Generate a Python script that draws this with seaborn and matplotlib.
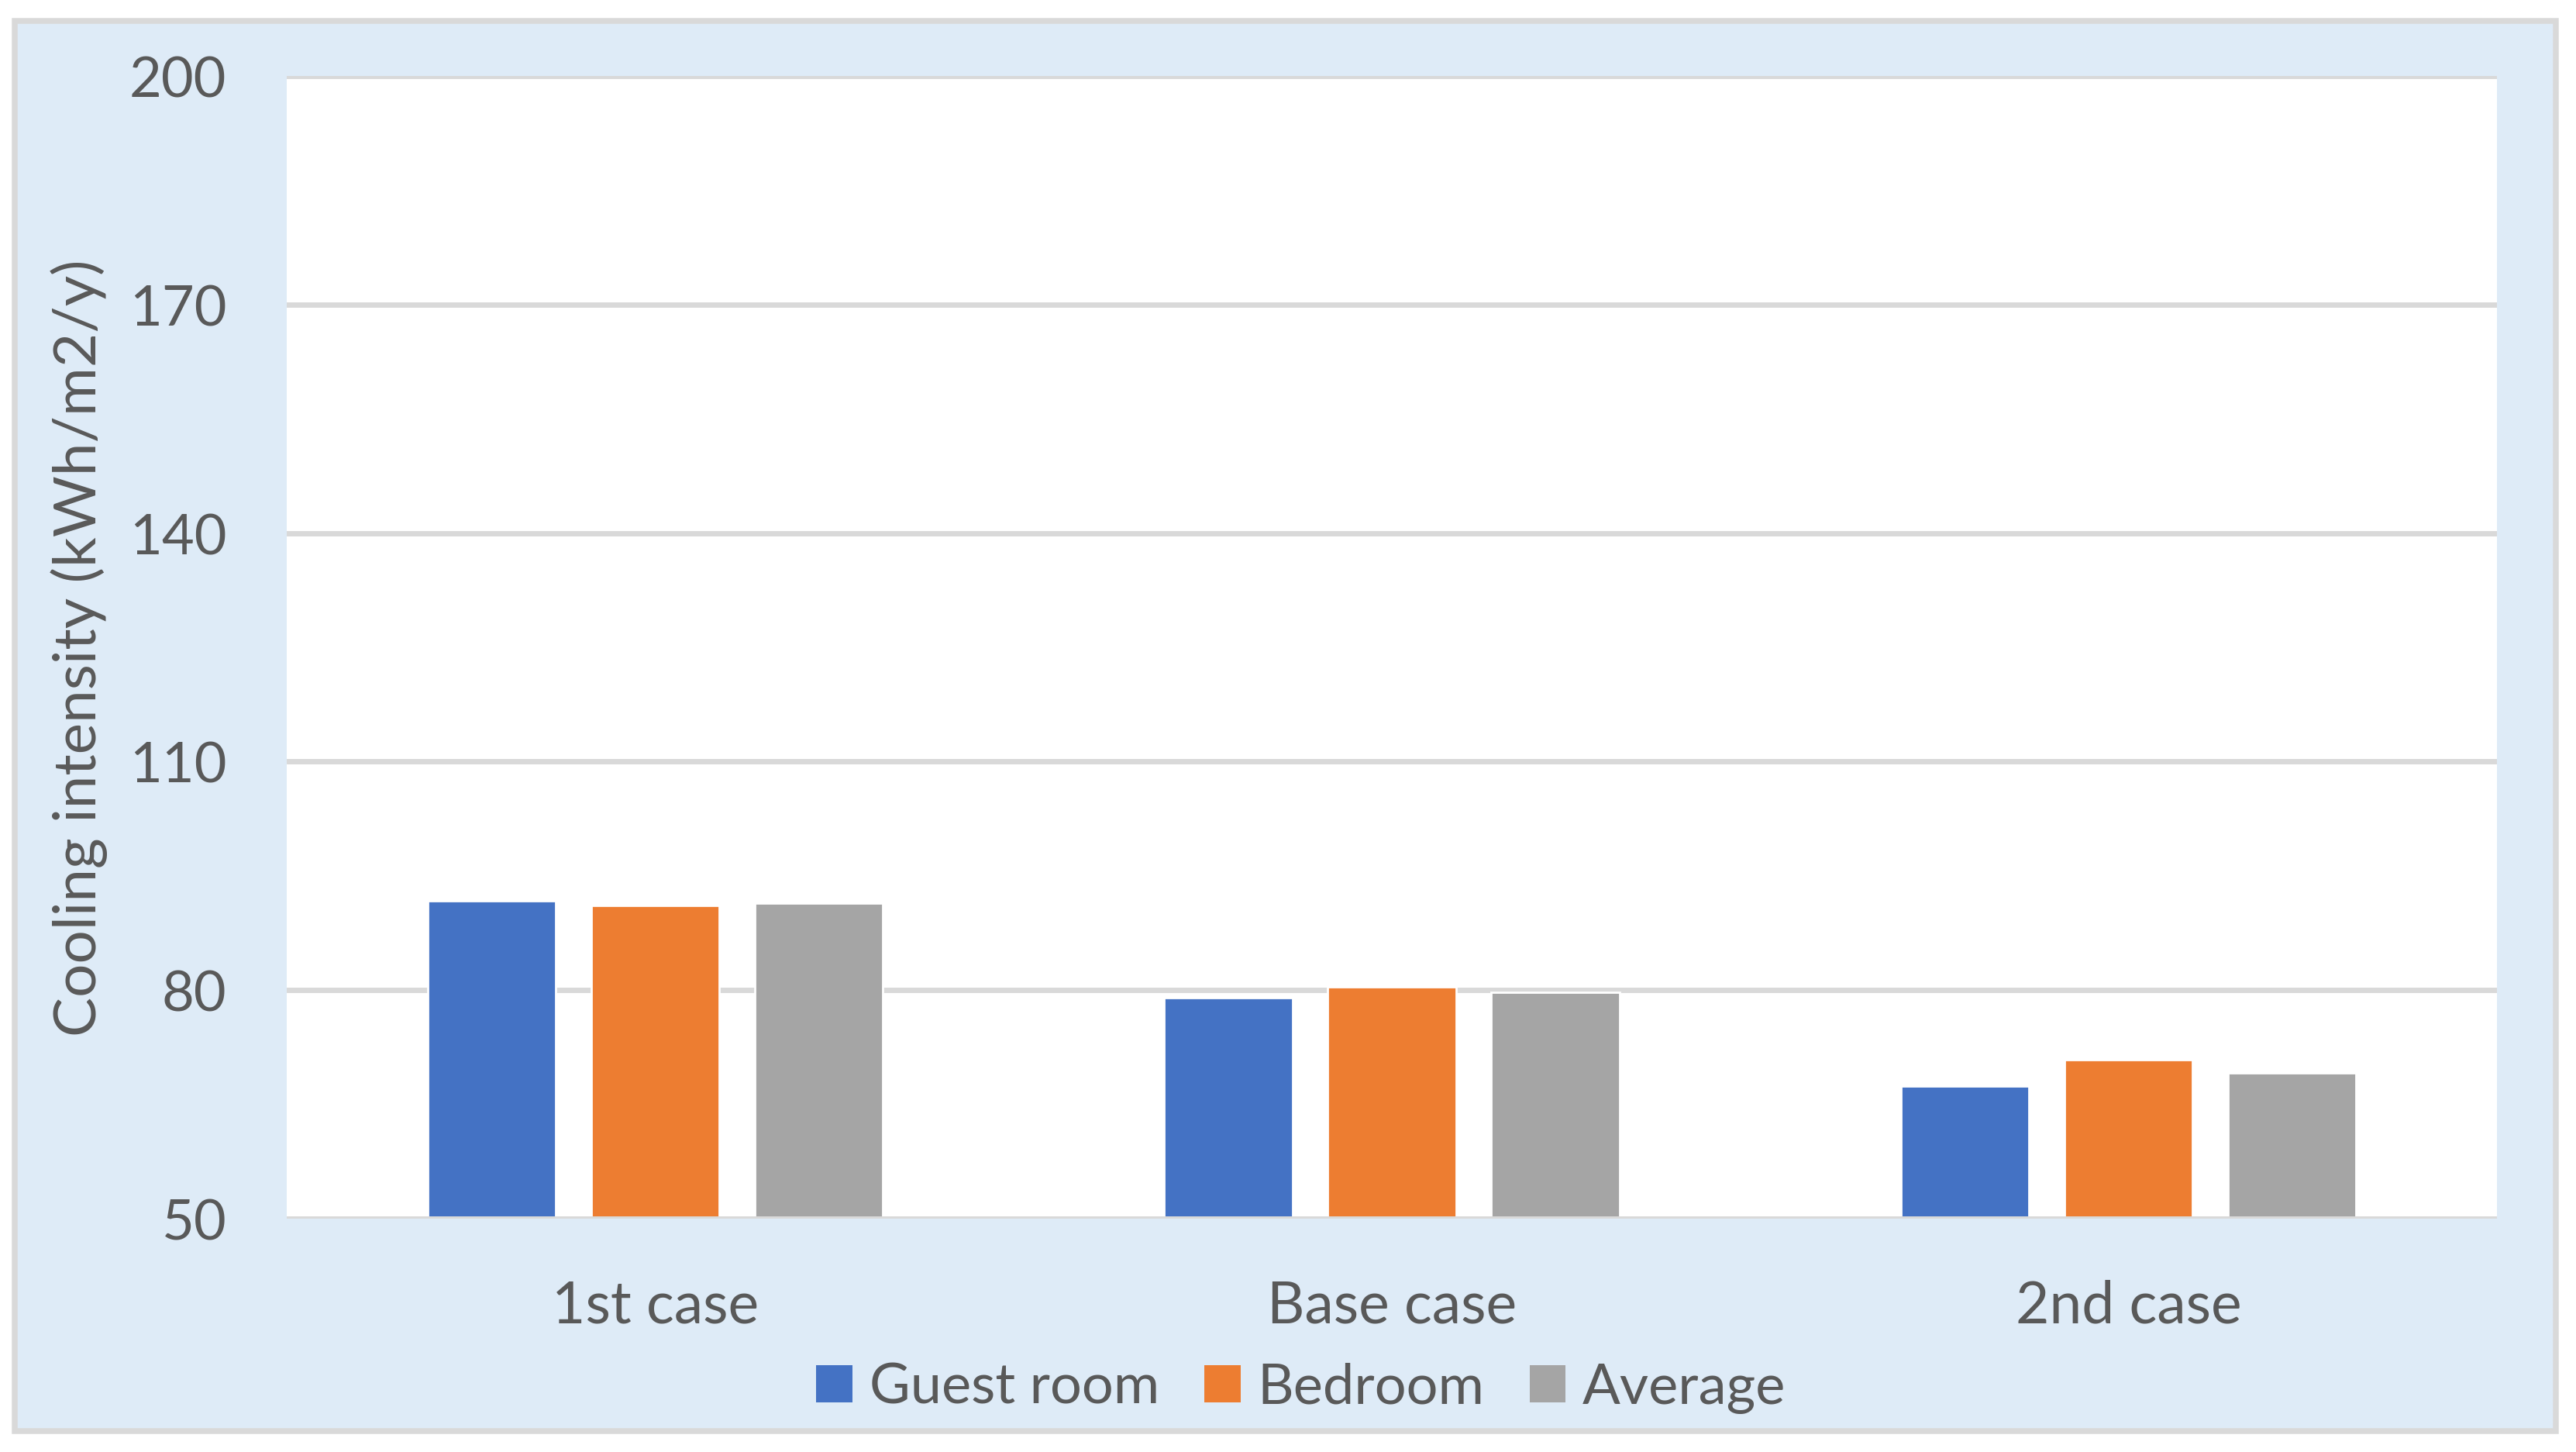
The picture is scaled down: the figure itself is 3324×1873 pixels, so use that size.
import pandas as pd
import seaborn as sns
import matplotlib.pyplot as plt
from matplotlib.patches import Rectangle

# data
cases = ["1st case", "Base case", "2nd case"]
guest_room = [91.7, 79.0, 67.4]
bedroom = [91.1, 80.4, 70.9]
average = [91.4, 79.7, 69.1]
series = ["Guest room", "Bedroom", "Average"]
colors = ["#4472C4", "#ED7D31", "#A5A5A5"]

df = pd.DataFrame({
    "Case": cases * 3,
    "Series": [s for s in series for _ in cases],
    "Value": guest_room + bedroom + average,
})

sns.set_theme(style="white")
plt.rcParams["font.family"] = ["Lato", "DejaVu Sans"]
text_color = "#595959"
grid_color = "#D9D9D9"

W, H, dpi = 3324, 1874, 200
fig = plt.figure(figsize=(W / dpi, H / dpi), dpi=dpi, facecolor="white")

# outer chart area box, kept behind the axes
fig.patches.append(Rectangle(
    (18.5 / W, 1 - 1847 / H), (3298 - 18.5) / W, (1847 - 28) / H,
    transform=fig.transFigure, facecolor="#DEEBF7", edgecolor=grid_color,
    linewidth=2.7, zorder=-10))

ax = fig.add_axes([370 / W, 1 - 1573 / H, (3222 - 370) / W, (1573 - 99) / H])
ax.set_facecolor("white")

sns.barplot(data=df, x="Case", y="Value", hue="Series", palette=colors,
            width=0.666, gap=0.216, saturation=1, ax=ax, zorder=3,
            legend=True)

ax.set_ylim(50, 200)
ax.set_yticks([50, 80, 110, 140, 170, 200])
ax.yaxis.grid(True, color=grid_color, linewidth=2.5, zorder=0)
ax.set_axisbelow(True)
for s in ax.spines.values():
    s.set_visible(False)
ax.axhline(50, color=grid_color, linewidth=2.5, zorder=4)

ax.tick_params(axis="both", length=0, labelsize=26, colors=text_color)
ax.tick_params(axis="x", labelsize=27, pad=28)
ax.tick_params(axis="y", pad=28)
ax.set_xlabel("")
ax.set_ylabel("Cooling intensity (kWh/m2/y)", fontsize=27.5, color=text_color,
              labelpad=10)

ax.get_legend().remove()
handles = [Rectangle((0, 0), 1, 1, facecolor=c, edgecolor="none") for c in colors]
fig.legend(handles, series, loc="center", bbox_to_anchor=(1679 / W, 1 - 1791 / H),
           ncol=3, frameon=False, fontsize=26, labelcolor=text_color,
           handlelength=0.65, handleheight=0.65, handletextpad=0.3,
           columnspacing=0.8)

fig.savefig("out.png", dpi=dpi, facecolor="white")
